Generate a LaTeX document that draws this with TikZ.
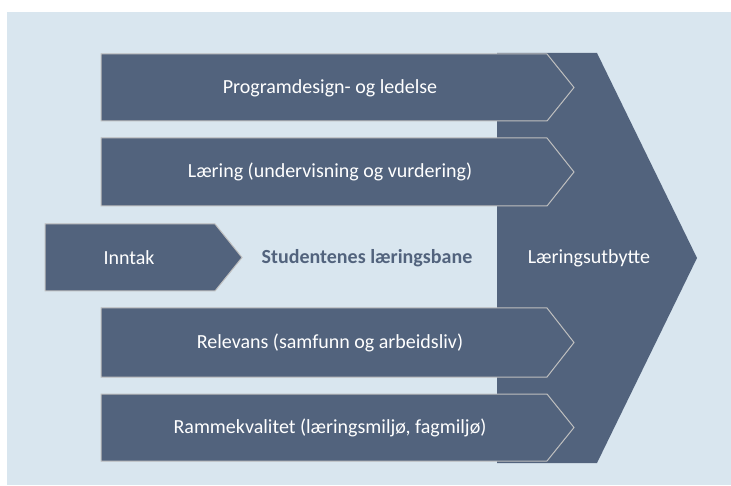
\documentclass[tikz,border=0pt]{standalone}
\usepackage{fontspec}
\setmainfont{Carlito}
\definecolor{bgblue}{HTML}{D9E6EF}
\definecolor{slate}{HTML}{52637D}
\definecolor{edge}{HTML}{BFBFBF}
\tikzset{
  bigarrow/.style={fill=slate, draw=none},
  smallarrow/.style={fill=slate, draw=edge, line width=1pt, line join=miter},
  lbl/.style={text=white, font=\fontsize{20}{24}\selectfont, inner sep=0pt, anchor=center},
  midlbl/.style={text=slate, font=\fontsize{20}{24}\selectfont\bfseries, inner sep=0pt, anchor=center}
}
\begin{document}
\begin{tikzpicture}[x=1pt,y=-1pt]
\useasboundingbox (0,0) rectangle (731,486);
\fill[white] (0,0) rectangle (731,486);
\fill[bgblue] (7,12) rectangle (731,485);
% big outcome arrow
\fill[bigarrow] (497,53) -- (597,53) -- (697,258) -- (597,463) -- (497,463) -- cycle;
% small arrows
\foreach \t/\b in {54/121, 138/206, 308/377, 394/461}{
  \draw[smallarrow] (101,\t) -- (547,\t) -- (574,{(\t+\b)/2}) -- (547,\b) -- (101,\b) -- cycle;
}
% intake arrow
\draw[smallarrow] (45,224) -- (215,224) -- (242,257.5) -- (215,291) -- (45,291) -- cycle;
% labels
\node[lbl] (prog) at (330,88) {Programdesign- og ledelse};
\node[lbl] (laer) at (330,172) {Læring (undervisning og vurdering)};
\node[lbl] (inn) at (129,258) {Inntak};
\node[midlbl] (bane) at (367,258) {Studentenes læringsbane};
\node[lbl] (utb) at (589,258) {Læringsutbytte};
\node[lbl] (rel) at (330,343) {Relevans (samfunn og arbeidsliv)};
\node[lbl] (ramme) at (330,428) {Rammekvalitet (læringsmiljø, fagmiljø)};
\end{tikzpicture}
\end{document}
